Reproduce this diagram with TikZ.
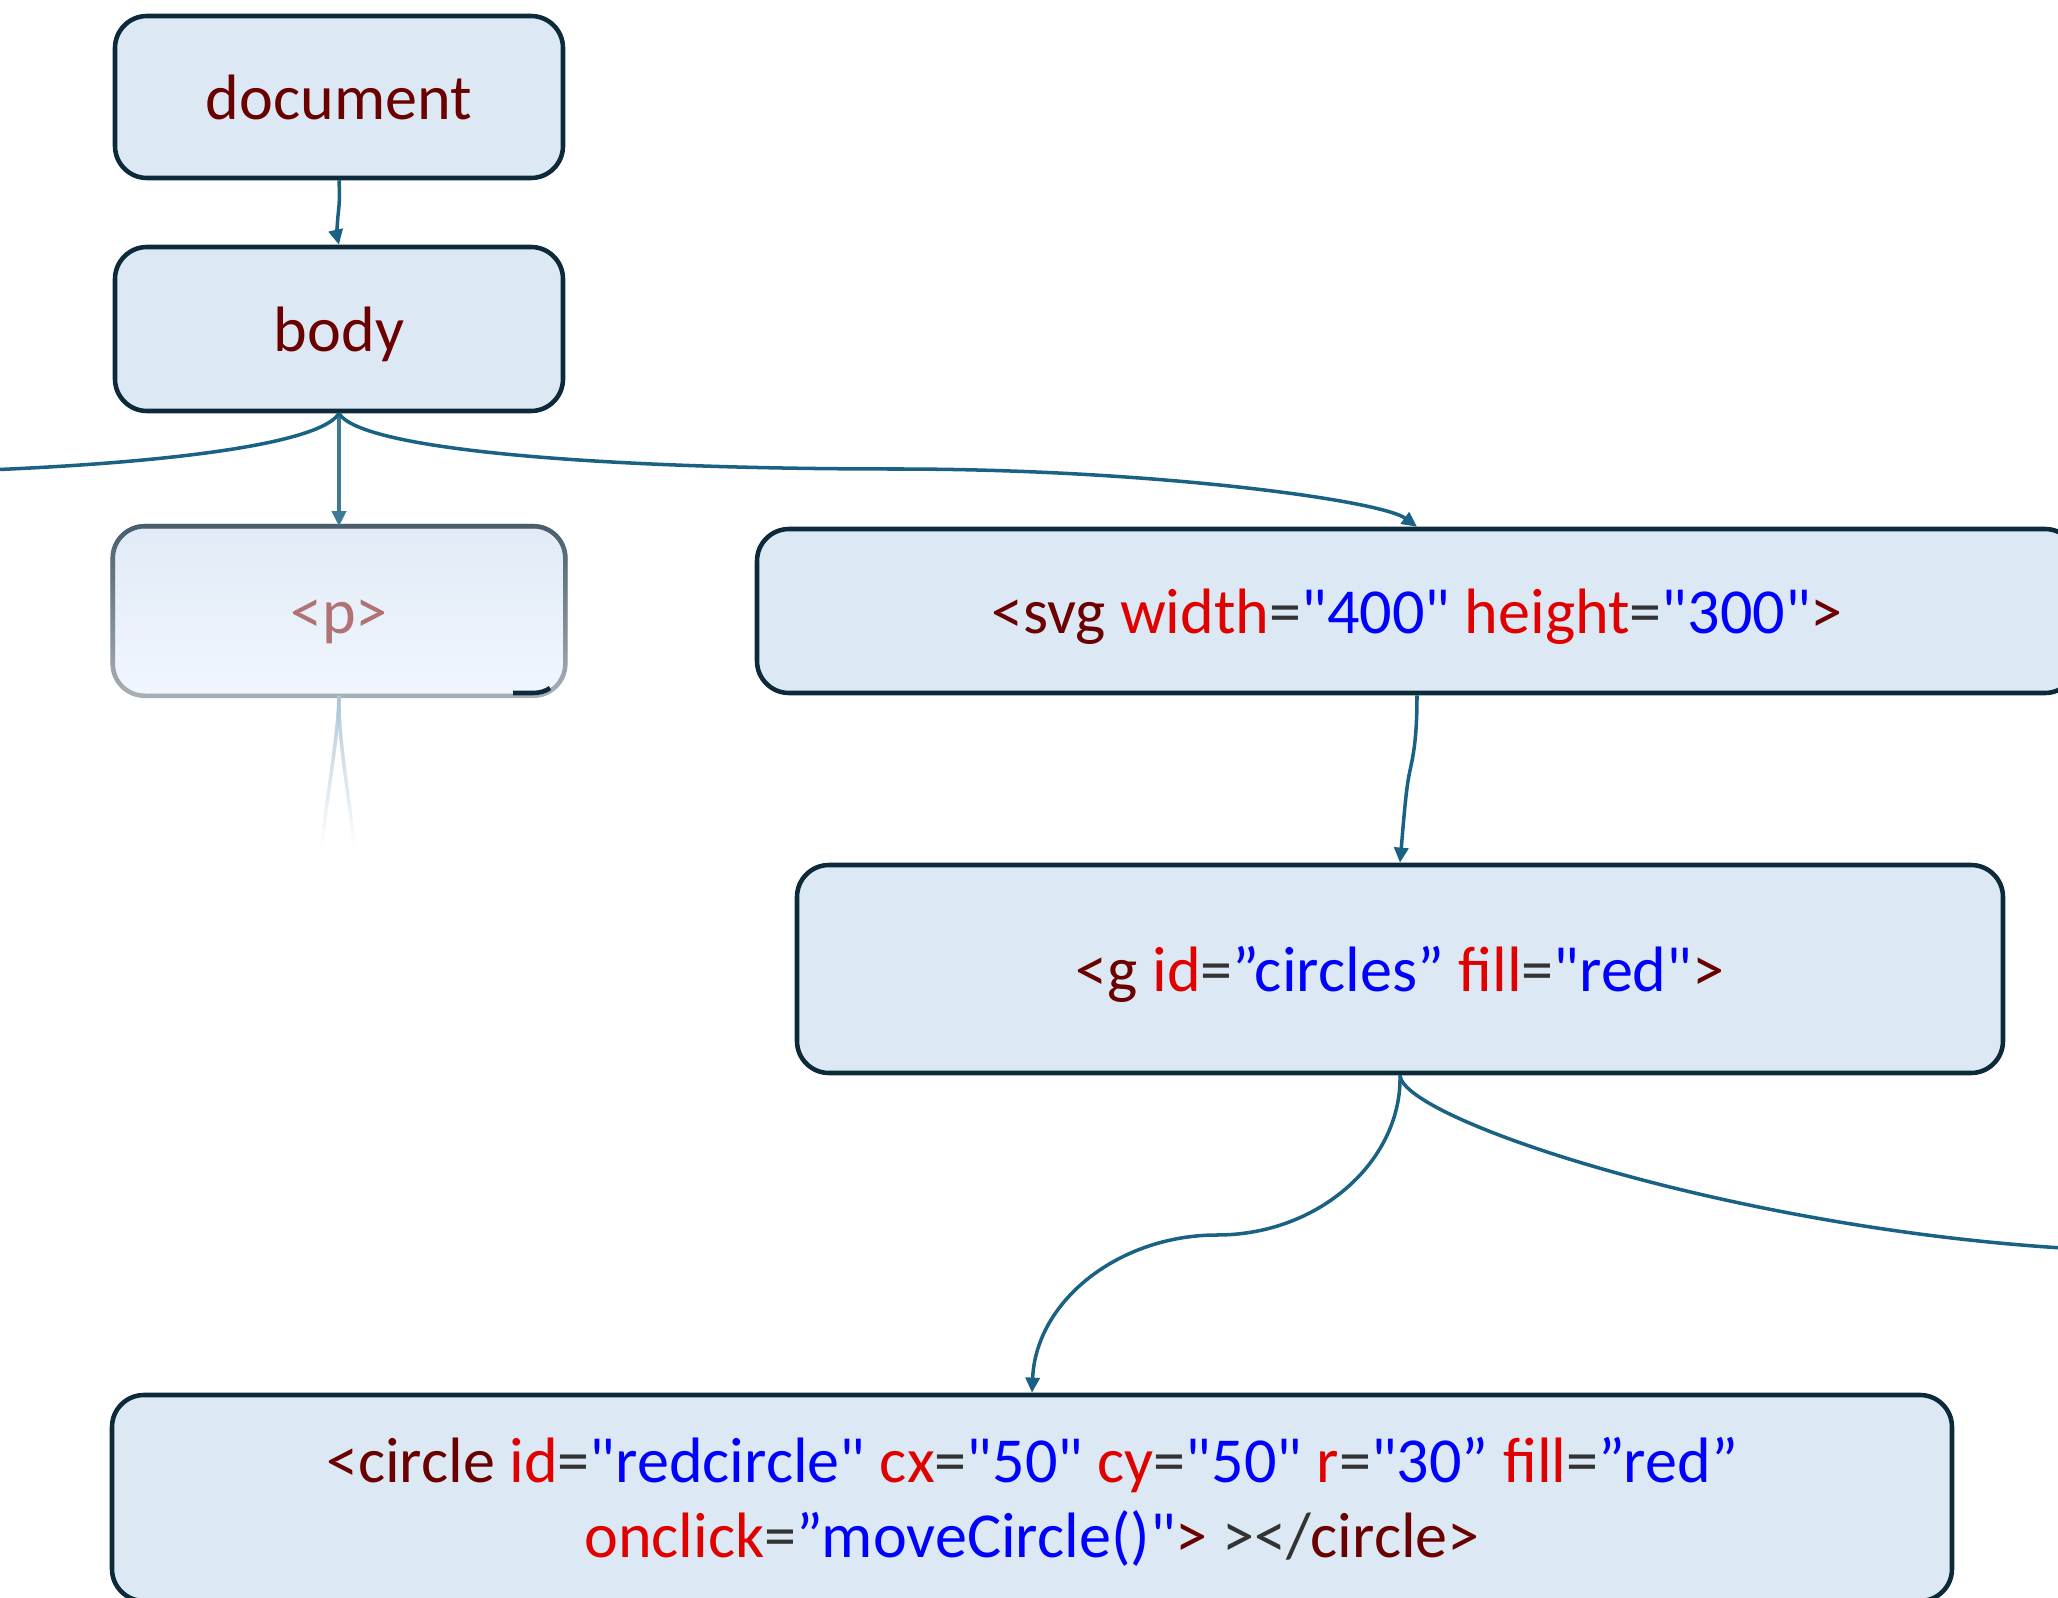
\documentclass[tikz,border=0pt]{standalone}
\usepackage{fontspec}
\newfontfamily\tagfont{Carlito}
\usetikzlibrary{arrows.meta,fadings}
\definecolor{tagfill}{HTML}{DCE9F5}
\definecolor{tagline}{HTML}{0D2A3B}
\definecolor{linkblue}{HTML}{1A6283}
\definecolor{tagred}{HTML}{6B0000}
\definecolor{attrred}{HTML}{E00000}
\definecolor{valblue}{HTML}{0000FF}
\definecolor{eqgrey}{HTML}{333333}
\definecolor{parafilltop}{HTML}{E1EBF7}
\definecolor{parafillbot}{HTML}{F1F6FD}
\definecolor{paralinetop}{HTML}{485E6D}
\definecolor{paralinebot}{HTML}{A9B1B8}
\definecolor{paratext}{HTML}{B07272}
\definecolor{paralink}{HTML}{B0C7D8}
\newcommand\tagtx[1]{\textcolor{tagred}{#1}}
\newcommand\attrtx[1]{\textcolor{attrred}{#1}}
\newcommand\valtx[1]{\textcolor{valblue}{#1}}
\newcommand\eqtx[1]{\textcolor{eqgrey}{#1}}

\begin{document}
\begin{tikzpicture}[x=0.1mm, y=-0.1mm,
    font=\tagfont\fontsize{18.25}{21.5}\selectfont,
    tag/.style={draw=tagline, fill=tagfill, line width=1.3pt, rounded corners=3.2mm,
      text=tagred, align=center, inner sep=0pt, text height=16pt, text depth=3pt},
    arr/.style={-{Triangle[length=4.3pt,width=4pt]}, linkblue, line width=1pt},
    link/.style={linkblue, line width=1pt}]
  \useasboundingbox (0,0) rectangle (2058,1598);

  % DOM nodes
  \node[tag, minimum width=44.8mm, minimum height=16.2mm] (doc)  at (339,97)  {document};
  \node[tag, minimum width=44.8mm, minimum height=16.4mm] (body) at (339,329) {body};
  \node[tag, draw=none, top color=parafilltop, bottom color=parafillbot, text=paratext,
        minimum width=44.8mm, minimum height=16.5mm] (para) at (339,611) {<p>};
  \node[tag, minimum width=132mm, minimum height=16.4mm] (svg) at (1417,611)
    {\tagtx{<svg} \attrtx{width}\eqtx{=}\valtx{"400"} \attrtx{height}\eqtx{=}\valtx{"300"}\tagtx{>}};
  \node[tag, minimum width=120.6mm, minimum height=20.8mm] (grp) at (1400,969)
    {\tagtx{<g} \attrtx{id}\eqtx{=}\valtx{”circles”} \attrtx{fill}\eqtx{=}\valtx{"red"}\tagtx{>}};
  \node[tag, text height=36pt, text depth=2pt, minimum width=184mm, minimum height=20.6mm] (circ) at (1032,1498)
    {\tagtx{<circle} \attrtx{id}\eqtx{=}\valtx{"redcircle"} \attrtx{cx}\eqtx{=}\valtx{"50"}
     \attrtx{cy}\eqtx{=}\valtx{"50"} \attrtx{r}\eqtx{=}\valtx{"30”} \attrtx{fill}\eqtx{=}\valtx{”red”}\\
     \attrtx{onclick}\eqtx{=}\valtx{”moveCircle()"}\tagtx{>} \eqtx{></}\tagtx{circle>}};

  % faded border of <p>
  \draw[paralinebot, line width=1.3pt, rounded corners=3.2mm]
    (para.north west) rectangle (para.south east);
  \draw[paralinetop, line width=1.3pt, rounded corners=3.2mm, path fading=south]
    (para.north west) rectangle (para.south east);
  \draw[tagline, line width=1.3pt] (513,693) -- (533,693) .. controls (540,693) and (546,691) .. (550,688);

  % bends and loose ends
  \coordinate (docbend)  at (338,216);
  \coordinate (bodymid)  at (897,469);
  \coordinate (offleft)  at (-221,474);
  \coordinate (svgbend)  at (1408,781);
  \coordinate (grpmid)   at (1217,1235);
  \coordinate (offright) at (2100,1250);
  \coordinate (paraleft)  at (322,845);
  \coordinate (pararight) at (354,845);

  % connectors
  \draw[arr] (doc.south) .. controls (340,200) and (339,206) .. (docbend)
    .. controls (337,226) and (337,236) .. (body.north);
  \draw[arr, linkblue!85] (body.south) -- (para.north);
  \draw[link] (body.south) .. controls (316,452) and (76,474) .. (offleft);
  \draw[arr] (body.south) .. controls (360,450) and (600,469) .. (bodymid)
    .. controls (1150,469) and (1380,500) .. (svg.north);
  \draw[arr] (svg.south) .. controls (1417,750) and (1411,762) .. (svgbend)
    .. controls (1405,800) and (1402,840) .. (grp.north);
  \draw[arr] (grp.south) .. controls (1402,1160) and (1320,1235) .. (grpmid)
    .. controls (1120,1235) and (1036,1300) .. (circ.north);
  \draw[link] (grp.south) .. controls (1402,1120) and (1750,1235) .. (offright);
  \draw[paralink, line width=1pt, path fading=south]
    (para.south) .. controls (338,740) and (326,800) .. (paraleft);
  \draw[paralink, line width=1pt, path fading=south]
    (para.south) .. controls (338,740) and (350,800) .. (pararight);
\end{tikzpicture}
\end{document}
